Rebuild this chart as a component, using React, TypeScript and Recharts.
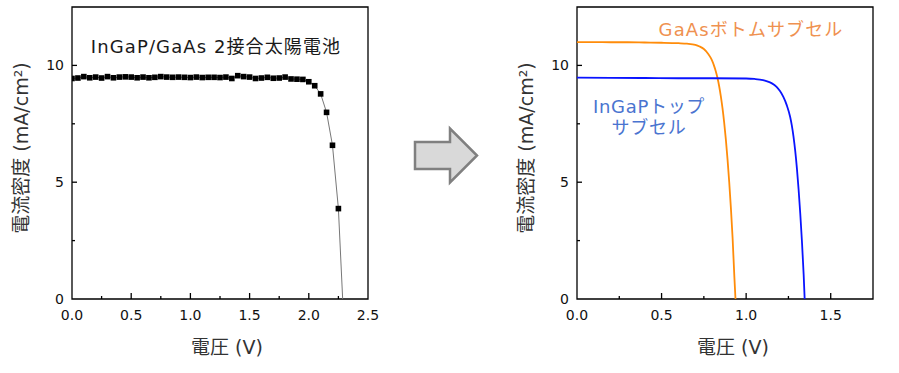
import React from 'react';
import { ComposedChart, Line, XAxis, YAxis, ReferenceArea } from 'recharts';

// left: measured J-V of the tandem cell
const tandemVoltage = [
  0.0, 0.05, 0.1, 0.15, 0.2, 0.25, 0.3, 0.35, 0.4, 0.45, 0.5, 0.55, 0.6, 0.65, 0.7, 0.75,
  0.8, 0.85, 0.9, 0.95, 1.0, 1.05, 1.1, 1.15, 1.2, 1.25, 1.3, 1.35, 1.4, 1.45, 1.5, 1.55,
  1.6, 1.65, 1.7, 1.75, 1.8, 1.85, 1.9, 1.95, 2.0, 2.05, 2.1, 2.15, 2.2, 2.25,
];
const tandemCurrent = [
  9.44, 9.46, 9.52, 9.47, 9.5, 9.46, 9.52, 9.47, 9.5, 9.51, 9.5, 9.47, 9.5, 9.47, 9.49, 9.52,
  9.5, 9.49, 9.5, 9.49, 9.48, 9.5, 9.48, 9.49, 9.49, 9.48, 9.5, 9.44, 9.56, 9.52, 9.5, 9.44,
  9.46, 9.49, 9.45, 9.46, 9.5, 9.42, 9.41, 9.4, 9.3, 9.13, 8.78, 7.99, 6.58, 3.87,
];
const tandemVoc = 2.286;

// right: sub cells
const gaasVoltage = [0, 0.1, 0.2, 0.3, 0.4, 0.5, 0.6, 0.65, 0.7, 0.725, 0.75, 0.775, 0.79, 0.8, 0.81, 0.82, 0.83, 0.84, 0.85, 0.86, 0.87, 0.88, 0.89, 0.9, 0.91, 0.92, 0.93, 0.937];
const gaasCurrent = [11.0, 11.0, 10.99, 10.99, 10.98, 10.97, 10.95, 10.93, 10.88, 10.81, 10.7, 10.5, 10.33, 10.18, 9.99, 9.76, 9.48, 9.13, 8.7, 8.18, 7.56, 6.83, 5.98, 5.0, 3.88, 2.6, 1.0, 0];
const ingapVoltage = [0, 0.2, 0.4, 0.6, 0.8, 1.0, 1.05, 1.1, 1.12, 1.15, 1.18, 1.2, 1.22, 1.24, 1.26, 1.27, 1.28, 1.29, 1.3, 1.31, 1.32, 1.33, 1.34, 1.346];
const ingapCurrent = [9.48, 9.47, 9.46, 9.45, 9.45, 9.44, 9.42, 9.37, 9.33, 9.24, 9.08, 8.9, 8.65, 8.3, 7.8, 7.43, 6.95, 6.35, 5.6, 4.7, 3.65, 2.45, 1.05, 0];

const leftXTicks = [0, 0.25, 0.5, 0.75, 1, 1.25, 1.5, 1.75, 2, 2.25, 2.5];
const rightXTicks = [0, 0.25, 0.5, 0.75, 1, 1.25, 1.5, 1.75];
const yTicks = [0, 2.5, 5, 7.5, 10, 12.5];
const majorX = [0, 0.5, 1, 1.5, 2, 2.5];
const majorY = [0, 5, 10];

const FONT = "'DejaVu Sans', 'Noto Sans CJK JP', sans-serif";

const tandemData = [
  ...tandemVoltage.map((v, i) => ({ v, j: tandemCurrent[i] })),
  { v: tandemVoc, j: 0, fit: true },
];
const gaasData = gaasVoltage.map((v, i) => ({ v, j: gaasCurrent[i] }));
const ingapData = ingapVoltage.map((v, i) => ({ v, j: ingapCurrent[i] }));

const XTick = (props: any) => {
  const { x, y, payload, last } = props;
  const val = payload.value;
  const major = majorX.includes(val);
  const isEdge = val === last;
  return (
    <g>
      {!isEdge && val !== 0 && (
        <line x1={x} x2={x} y1={y} y2={y - (major ? 6 : 3)} stroke="#000" strokeWidth={1.3} />
      )}
      {major && (
        <text x={x} y={y + 21} textAnchor="middle" fontSize={14} fill="#111">
          {val.toFixed(1)}
        </text>
      )}
    </g>
  );
};

const YTick = (props: any) => {
  const { x, y, payload } = props;
  const val = payload.value;
  const major = majorY.includes(val);
  if (val === 0 || val === 12.5) {
    return major ? (
      <text x={x - 8} y={y + 5} textAnchor="end" fontSize={14} fill="#111">{val}</text>
    ) : <g />;
  }
  return (
    <g>
      <line x1={x} x2={x + (major ? 5 : 3)} y1={y} y2={y} stroke="#000" strokeWidth={1.3} />
      {major && (
        <text x={x - 8} y={y + 5} textAnchor="end" fontSize={14} fill="#111">{val}</text>
      )}
    </g>
  );
};

const Square = (props: any) => {
  const { cx, cy, payload, index } = props;
  if (payload.fit) return <g key={index} />;
  return <rect key={index} x={cx - 2.8} y={cy - 2.8} width={5.6} height={5.6} fill="#000" />;
};

const abs = (left: number, top: number, extra: React.CSSProperties = {}): React.CSSProperties => ({
  position: 'absolute',
  left,
  top,
  transform: 'translate(-50%, -50%)',
  whiteSpace: 'nowrap',
  lineHeight: 1,
  ...extra,
});

export default function App() {
  return (
    <div style={{ position: 'absolute', left: 0, top: 0, width: 899, height: 373, background: '#fff', fontFamily: FONT }}>
      <div style={{ position: 'absolute', left: 0, top: 0 }}>
        <ComposedChart width={380} height={373} margin={{ top: 7, left: 32, right: 12, bottom: 44 }}>
          <XAxis
            type="number"
            dataKey="v"
            domain={[0, 2.5]}
            ticks={leftXTicks}
            interval={0}
            height={30}
            tickSize={0}
            tickMargin={0}
            axisLine={false}
            tickLine={false}
            tick={(p: any) => <XTick {...p} last={2.5} />}
            allowDataOverflow
          />
          <YAxis
            type="number"
            domain={[0, 12.5]}
            ticks={yTicks}
            interval={0}
            width={40}
            tickSize={0}
            tickMargin={0}
            axisLine={false}
            tickLine={false}
            tick={(p: any) => <YTick {...p} />}
            allowDataOverflow
          />
          <ReferenceArea x1={0} x2={2.5} y1={0} y2={12.5} fill="none" stroke="#000" strokeWidth={1.3} />
          <Line
            data={tandemData}
            dataKey="j"
            type="linear"
            stroke="#777"
            strokeWidth={1}
            dot={Square}
            isAnimationActive={false}
          />
        </ComposedChart>
      </div>

      <div style={{ position: 'absolute', left: 500, top: 0 }}>
        <ComposedChart width={385} height={373} margin={{ top: 7, left: 37, right: 12, bottom: 44 }}>
          <XAxis
            type="number"
            dataKey="v"
            domain={[0, 1.75]}
            ticks={rightXTicks}
            interval={0}
            height={30}
            tickSize={0}
            tickMargin={0}
            axisLine={false}
            tickLine={false}
            tick={(p: any) => <XTick {...p} last={1.75} />}
            allowDataOverflow
          />
          <YAxis
            type="number"
            domain={[0, 12.5]}
            ticks={yTicks}
            interval={0}
            width={40}
            tickSize={0}
            tickMargin={0}
            axisLine={false}
            tickLine={false}
            tick={(p: any) => <YTick {...p} />}
            allowDataOverflow
          />
          <ReferenceArea x1={0} x2={1.75} y1={0} y2={12.5} fill="none" stroke="#000" strokeWidth={1.3} />
          <Line data={gaasData} dataKey="j" type="monotone" stroke="#ff8c0a" strokeWidth={1.8} dot={false} isAnimationActive={false} />
          <Line data={ingapData} dataKey="j" type="monotone" stroke="#0a14ff" strokeWidth={1.8} dot={false} isAnimationActive={false} />
        </ComposedChart>
      </div>

      {/* arrow between panels */}
      <svg width={899} height={373} style={{ position: 'absolute', left: 0, top: 0, pointerEvents: 'none' }}>
        <polygon
          points="415,142 450,142 450,128.5 477,155.5 450,182.5 450,169 415,169"
          fill="#d9d9d9"
          stroke="#808080"
          strokeWidth={2.5}
          strokeLinejoin="miter"
        />
      </svg>

      <div style={abs(216, 47, { fontSize: 18, color: '#1a1a1a', letterSpacing: 1.1 })}>InGaP/GaAs 2接合太陽電池</div>
      <div style={abs(227, 347, { fontSize: 19, color: '#333' })}>電圧 (V)</div>
      <div style={abs(21, 148, { fontSize: 19, color: '#333', transform: 'translate(-50%, -50%) rotate(-90deg)' })}>電流密度 (mA/cm²)</div>

      <div style={abs(751, 30, { fontSize: 18, color: '#ef9150', letterSpacing: 1.1 })}>GaAsボトムサブセル</div>
      <div style={abs(649, 117, { fontSize: 18, color: '#4a74d0', textAlign: 'center', lineHeight: '21px', letterSpacing: 0.7 })}>
        InGaPトップ<br />サブセル
      </div>
      <div style={abs(733, 347, { fontSize: 19, color: '#333' })}>電圧 (V)</div>
      <div style={abs(526, 148, { fontSize: 19, color: '#333', transform: 'translate(-50%, -50%) rotate(-90deg)' })}>電流密度 (mA/cm²)</div>
    </div>
  );
}
